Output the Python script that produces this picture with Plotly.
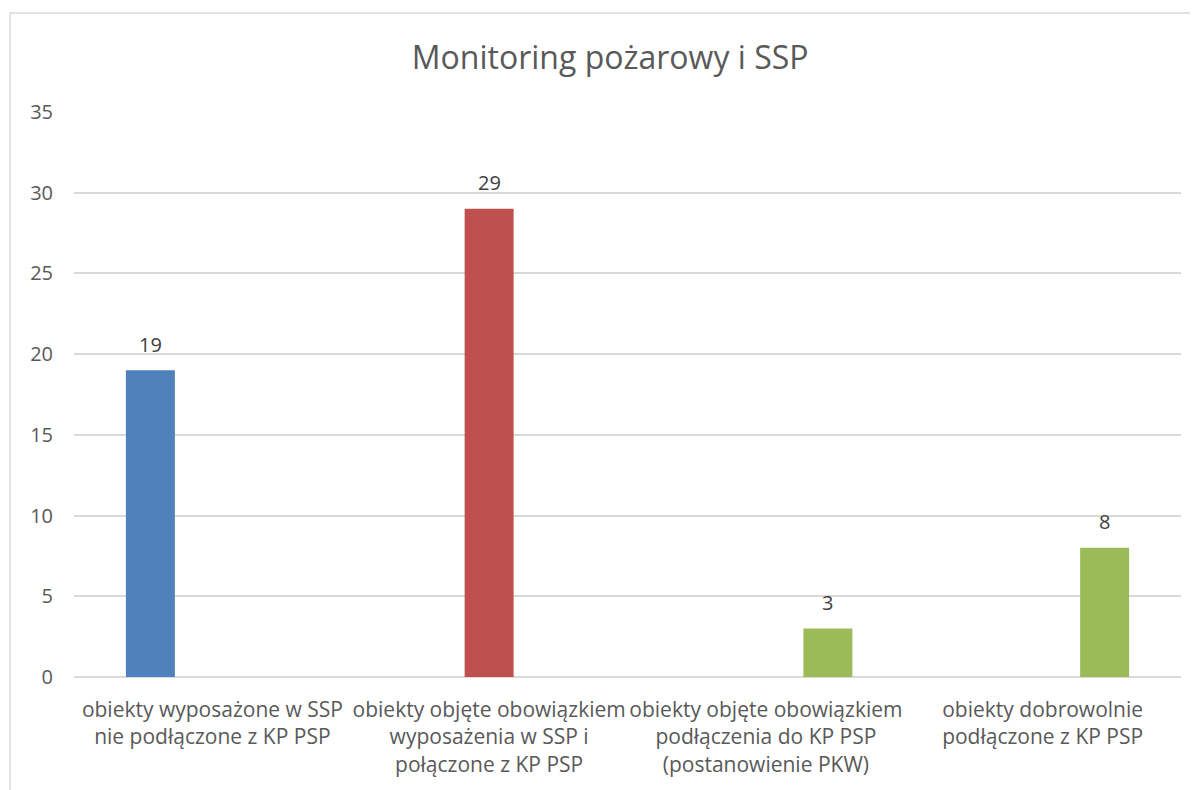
import plotly.graph_objects as go

categories = [
    "obiekty wyposażone w SSP<br>nie podłączone z KP PSP",
    "obiekty objęte obowiązkiem<br>wyposażenia w SSP i<br>połączone z KP PSP",
    "obiekty objęte obowiązkiem<br>podłączenia do KP PSP<br>(postanowienie PKW)",
    "obiekty dobrowolnie<br>podłączone z KP PSP",
]
series1 = [19, None, None, None]
series2 = [None, 29, None, None]
series3 = [None, None, 3, 8]
colors = ["#4F81BD", "#C0504D", "#9BBB59"]
title = "Monitoring pożarowy i SSP"
y_ticks = [0, 5, 10, 15, 20, 25, 30, 35]

FONT = "Open Sans"
W, H = 1190, 782
ML, MR, MT, MB = 66, 17, 104, 113
PW = W - ML - MR
PH = H - MT - MB
SLOT_PX = 62

fig = go.Figure()
annotations = []
all_series = [series1, series2, series3]
for i, (vals, col) in enumerate(zip(all_series, colors)):
    fig.add_trace(go.Bar(
        x=categories, y=vals, marker=dict(color=col, line=dict(width=0)),
        showlegend=False, hoverinfo="x+y",
    ))
    for c, v in zip(categories, vals):
        if v is not None:
            annotations.append(dict(
                x=c, y=v, xref="x", yref="y", text=str(v), showarrow=False,
                xanchor="center", yanchor="middle", xshift=(i - 1) * SLOT_PX, yshift=26,
                font=dict(family=FONT, size=20, color="#404040"),
            ))

fig.update_layout(
    width=W, height=H,
    barmode="group", bargap=0.328, bargroupgap=0.21,
    paper_bgcolor="white", plot_bgcolor="white",
    margin=dict(l=ML, r=MR, t=MT, b=MB),
    title=dict(text=title, x=0.506, xanchor="center", y=0.936, yanchor="middle",
               font=dict(family=FONT, size=32, color="#595959")),
    font=dict(family=FONT, color="#595959"),
    xaxis=dict(showgrid=False, showline=False, ticks="", tickfont=dict(size=21, color="#595959"),
               ticklabelstandoff=18),
    yaxis=dict(range=[0, 35], tickvals=y_ticks, showgrid=True, gridcolor="#D9D9D9", gridwidth=1.5,
               zeroline=True, zerolinecolor="#D9D9D9", zerolinewidth=1.5, ticks="", ticklen=0,
               tickfont=dict(size=20, color="#595959"), ticklabelstandoff=20),
    annotations=annotations,
    shapes=[dict(type="rect", xref="paper", yref="paper",
                 x0=(2 - ML) / PW, x1=1.2, y0=-0.5, y1=1 + (MT - 5) / PH,
                 line=dict(color="#D9D9D9", width=1.5), fillcolor="rgba(0,0,0,0)", layer="below")],
)
fig.write_html("out.html")
